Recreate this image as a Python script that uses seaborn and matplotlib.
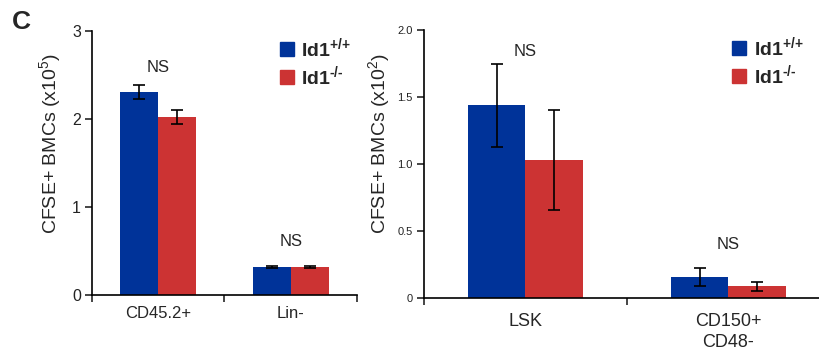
import numpy as np
import pandas as pd
import matplotlib
matplotlib.use("Agg")
import matplotlib.pyplot as plt
import matplotlib.patches as mpatches
import seaborn as sns

# Dados
celulas_a = ["CD45.2+", "Lin-"]
wt_a = [2.31, 0.32]
ko_a = [2.02, 0.32]
wt_a_err = [0.08, 0.01]
ko_a_err = [0.08, 0.01]
ns_a = [2.59, 0.61]

celulas_b = ["LSK", "CD150+\nCD48-"]
wt_b = [1.44, 0.157]
ko_b = [1.03, 0.088]
wt_b_err = [0.31, 0.07]
ko_b_err = [0.37, 0.035]
ns_b = [1.84, 0.40]

# hífen U+2010 para não virar sinal de menos no mathtext
genotipos = ["Id1$^{\\mathbf{{+}/{+}}}$", "Id1$^{\\mathbf{\u2010/\u2010}}$"]
COR_WT = "#003399"
COR_KO = "#CC3333"

sns.set_style("white")
plt.rcParams["font.family"] = ["Liberation Sans", "DejaVu Sans"]
plt.rcParams["mathtext.fontset"] = "custom"
plt.rcParams["mathtext.rm"] = "Liberation Sans"
plt.rcParams["mathtext.it"] = "Liberation Sans"
plt.rcParams["mathtext.bf"] = "Liberation Sans:bold"


def montar_df(celulas, wt, ko):
    return pd.DataFrame({
        "celula": celulas * 2,
        "valor": wt + ko,
        "genotipo": [genotipos[0]] * len(celulas) + [genotipos[1]] * len(celulas),
    })


def painel(ax, celulas, wt, ko, wt_err, ko_err, ns, ymax, yticks, yticklabels,
           ylabel, tick_fs, xlab_fs, xpad, leg_pos, ylab_pos):
    df = montar_df(celulas, wt, ko)
    sns.barplot(data=df, x="celula", y="valor", hue="genotipo", ax=ax,
                palette=[COR_WT, COR_KO], width=0.57, errorbar=None,
                saturation=1, linewidth=0, legend=False)
    erros = wt_err + ko_err
    valores = wt + ko
    for p, v, e in zip(ax.patches[:len(valores)], valores, erros):
        xc = p.get_x() + p.get_width() / 2
        ax.errorbar(xc, v, yerr=e, color="black", lw=1.2, capsize=4, capthick=1.2)
    for i, y in enumerate(ns):
        ax.text(i, y, "NS", ha="center", va="center", fontsize=12)
    ax.set_xlim(-0.5, 1.5)
    ax.set_ylim(0, ymax)
    ax.set_yticks(yticks)
    ax.set_yticklabels(yticklabels, fontsize=tick_fs, color="#222222")
    ax.set_xticks(range(len(celulas)))
    ax.set_xticklabels(celulas, fontsize=xlab_fs, linespacing=1.3)
    ax.set_xticks([-0.5, 0.5, 1.5], minor=True)
    ax.tick_params(axis="x", which="major", length=0, pad=xpad)
    ax.tick_params(axis="x", which="minor", length=5, width=1.2, direction="out", bottom=True)
    ax.tick_params(axis="y", length=5, width=1.2, direction="out", left=True, pad=3)
    ax.set_xlabel("")
    ax.set_ylabel(ylabel, fontsize=14)
    ax.yaxis.set_label_coords(*ylab_pos)
    sns.despine(ax=ax)
    for s in ["left", "bottom"]:
        ax.spines[s].set_color("black")
        ax.spines[s].set_linewidth(1.2)
    handles = [mpatches.Patch(color=COR_WT, label=genotipos[0]),
               mpatches.Patch(color=COR_KO, label=genotipos[1])]
    leg = ax.legend(handles=handles, loc="upper left", bbox_to_anchor=leg_pos,
                    frameon=False, fontsize=14, handlelength=0.7, handleheight=0.7,
                    handletextpad=0.4, labelspacing=0.2, borderaxespad=0)
    for t in leg.get_texts():
        t.set_fontweight("bold")


fig = plt.figure(figsize=(8.2, 3.52), dpi=100)
ax1 = fig.add_axes([92 / 820, 57 / 352, 265 / 820, 264 / 352])
ax2 = fig.add_axes([424 / 820, 54 / 352, 406 / 820, 268 / 352])

painel(ax1, celulas_a, wt_a, ko_a, wt_a_err, ko_a_err, ns_a, 3,
       [0, 1, 2, 3], ["0", "1", "2", "3"], "CFSE+ BMCs (x10$^{5}$)", 11.5, 12, 8,
       (0.68, 1.01), (-0.11, 0.575))
painel(ax2, celulas_b, wt_b, ko_b, wt_b_err, ko_b_err, ns_b, 2.0,
       [0, 0.5, 1.0, 1.5, 2.0], ["0", "0.5", "1.0", "1.5", "2.0"],
       "CFSE+ BMCs (x10$^{2}$)", 8, 13, 11, (0.74, 1.01), (-0.08, 0.575))

fig.text(12 / 820, 1 - 22 / 352, "C", fontsize=19, fontweight="bold", va="center")

fig.savefig("out.png", dpi=100)
